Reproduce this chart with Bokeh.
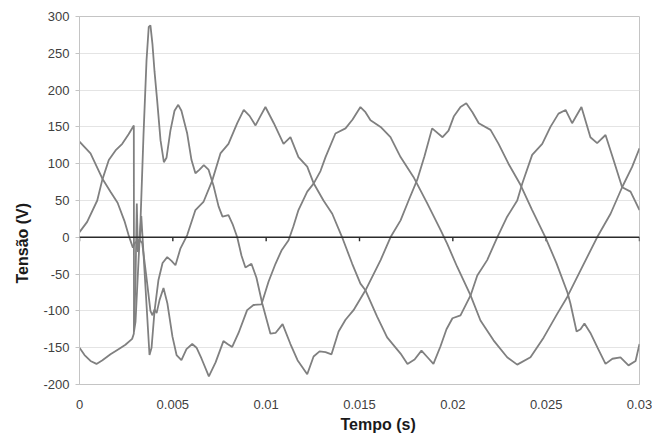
from bokeh.plotting import figure
from bokeh.models import Range1d, FixedTicker, NumeralTickFormatter, Span, Title
from bokeh.embed import file_html
from bokeh.resources import INLINE

# ---- data (time in s, voltage in V) ----
t_a = [0, 0.00027, 0.00059, 0.00091, 0.00123, 0.00166, 0.00209, 0.00246, 0.00282, 0.00291,
       0.00300, 0.00307, 0.00313, 0.00324, 0.00331, 0.00354, 0.00375, 0.00386, 0.00402, 0.00423,
       0.00445, 0.00470, 0.00493, 0.00514, 0.00541, 0.00577, 0.00621, 0.00664, 0.00711, 0.00755,
       0.00798, 0.00845, 0.00880, 0.00911, 0.00943, 0.00970, 0.00996, 0.01041, 0.01093, 0.01130,
       0.01173, 0.01220, 0.01255, 0.01307, 0.01354, 0.01407, 0.01461, 0.01505, 0.01532, 0.01595,
       0.01648, 0.01720, 0.01757, 0.01795, 0.01832, 0.01864, 0.01896, 0.01934, 0.01966, 0.01998,
       0.02041, 0.02095, 0.02131, 0.02184, 0.02238, 0.02291, 0.02345, 0.02372, 0.02425, 0.02479,
       0.02523, 0.02566, 0.02604, 0.02639, 0.02689, 0.02737, 0.02773, 0.02818, 0.02861, 0.02907,
       0.02952, 0.03]
v_a = [-150, -160, -168, -172, -167, -159, -152, -146, -138, -131,
       -60, 46, -20, 0, 29, -70, -160, -150, -100, -58,
       -35, -27, -32, -38, -15, 3, 37, 48, 77, 114,
       127, 155, 173, 165, 152, 165, 177, 155, 127, 136,
       109, 96, 73, 50, 32, 0, -36, -63, -72, -108,
       -136, -158, -172, -166, -154, -163, -172, -148, -125, -110,
       -106, -79, -52, -31, 0, 28, 50, 73, 112, 127,
       150, 168, 173, 155, 177, 136, 128, 139, 105, 68,
       62, 37]

t_b = [0, 0.00059, 0.00122, 0.00166, 0.00204, 0.00241, 0.00263, 0.00286, 0.00295, 0.00311,
       0.00321, 0.00336, 0.00359, 0.00380, 0.00391, 0.00402, 0.00413, 0.00429, 0.00450, 0.00471,
       0.00498, 0.00520, 0.00546, 0.00573, 0.00604, 0.00627, 0.00654, 0.00693, 0.00729, 0.00771,
       0.00793, 0.00818, 0.00852, 0.00898, 0.00932, 0.00975, 0.01013, 0.01050, 0.01082, 0.01120,
       0.01146, 0.01173, 0.01220, 0.01254, 0.01291, 0.01318, 0.01371, 0.01425, 0.01463, 0.01505,
       0.01532, 0.01559, 0.01613, 0.01666, 0.01720, 0.01789, 0.01863, 0.01934, 0.01970, 0.02023,
       0.02095, 0.02148, 0.02218, 0.02291, 0.02345, 0.02416, 0.02487, 0.02559, 0.02613, 0.02684,
       0.02773, 0.02845, 0.02907, 0.02961, 0.03]
v_b = [130, 114, 80, 62, 47, 22, 3, -14, -8, -5,
       -3, -8, -55, -100, -106, -98, -103, -85, -69, -90,
       -135, -160, -167, -152, -145, -150, -165, -189, -170, -141,
       -145, -149, -130, -99, -92, -91, -60, -36, -18, -4,
       15, 37, 62, 73, 90, 109, 141, 148, 160, 177,
       170, 159, 150, 136, 109, 82, 46, 10, -9, -40,
       -79, -113, -140, -163, -173, -163, -136, -104, -81, -45,
       0, 32, 68, 96, 121]

t_c = [0, 0.00041, 0.00095, 0.00122, 0.00157, 0.00193, 0.00229, 0.00263, 0.00291, 0.00292,
       0.00300, 0.00327, 0.00343, 0.00359, 0.00371, 0.00380, 0.00391, 0.00402, 0.00416, 0.00434,
       0.00452, 0.00466, 0.00487, 0.00509, 0.00529, 0.00546, 0.00577, 0.00600, 0.00621, 0.00643,
       0.00666, 0.00691, 0.00718, 0.00745, 0.00766, 0.00798, 0.00820, 0.00845, 0.00868, 0.00889,
       0.00921, 0.00948, 0.00979, 0.01023, 0.01050, 0.01088, 0.01130, 0.01168, 0.01220, 0.01254,
       0.01286, 0.01318, 0.01350, 0.01388, 0.01425, 0.01468, 0.01532, 0.01613, 0.01666, 0.01720,
       0.01763, 0.01809, 0.01848, 0.01889, 0.01945, 0.01977, 0.02005, 0.02041, 0.02072, 0.02105,
       0.02139, 0.02202, 0.02245, 0.02298, 0.02363, 0.02425, 0.02496, 0.02555, 0.02614, 0.02630,
       0.02663, 0.02684, 0.02705, 0.02737, 0.02775, 0.02818, 0.02855, 0.02898, 0.02941, 0.02979,
       0.03]
v_c = [7, 21, 50, 78, 105, 118, 127, 140, 152, -128,
       -115, 23, 140, 240, 286, 288, 262, 225, 186, 132,
       102, 108, 145, 172, 180, 172, 141, 105, 87, 92,
       98, 92, 70, 42, 28, 30, 18, 0, -25, -41,
       -36, -55, -90, -131, -130, -118, -145, -167, -186, -162,
       -155, -156, -159, -128, -112, -99, -72, -31, 0, 23,
       50, 78, 110, 148, 136, 145, 164, 177, 182, 170,
       155, 146, 127, 100, 71, 37, 0, -35, -75, -90,
       -128, -125, -117, -130, -150, -172, -165, -163, -174, -168,
       -145]

x_ticks = [0, 0.005, 0.01, 0.015, 0.02, 0.025, 0.03]
y_ticks = [-200, -150, -100, -50, 0, 50, 100, 150, 200, 250, 300]
y_title = "Tensão (V)"
x_title = "Tempo (s)"

FONT = "Liberation Sans"
LINE = "#808080"

p = figure(width=652, height=436, output_backend="svg", toolbar_location=None,
           x_range=Range1d(0, 0.03), y_range=Range1d(-200, 300),
           min_border_left=79, min_border_right=13, min_border_top=16, min_border_bottom=52,
           background_fill_color="white", border_fill_color="white")

p.outline_line_color = "#c4c4c4"
p.xgrid.grid_line_color = None
p.ygrid.grid_line_color = "#e4e4e4"
p.ygrid.grid_line_width = 1

p.xaxis.ticker = FixedTicker(ticks=x_ticks)
p.yaxis.ticker = FixedTicker(ticks=y_ticks)
p.xaxis.formatter = NumeralTickFormatter(format="0.[000]")
p.yaxis.formatter = NumeralTickFormatter(format="0")
for ax in (p.xaxis, p.yaxis):
    ax.axis_line_color = "#c4c4c4"
    ax.major_tick_line_color = "#c4c4c4"
    ax.minor_tick_line_color = None
    ax.major_tick_in = 0
    ax.major_label_text_font = FONT
    ax.major_label_text_font_size = "13px"
    ax.major_label_text_color = "#404040"
p.xaxis.major_tick_out = 0
p.xaxis.major_label_standoff = 15
p.yaxis.major_tick_out = 4
p.yaxis.major_label_standoff = 6

# zero line with its tick marks
p.add_layout(Span(location=0, dimension="width", line_color="#2b2b2b", line_width=1.4))
tick_len = 4 * 500 / 368
p.segment(x0=x_ticks, y0=[0] * len(x_ticks), x1=x_ticks, y1=[-tick_len] * len(x_ticks),
          line_color="#2b2b2b", line_width=1.4)

for t, v in ((t_a, v_a), (t_b, v_b), (t_c, v_c)):
    p.line(t, v, line_color=LINE, line_width=1.8)

p.add_layout(Title(text=y_title, align="left", offset=101, standoff=20, text_font=FONT,
                   text_font_size="16px", text_font_style="bold", text_color="#1a1a1a"), "left")
p.add_layout(Title(text=x_title, align="left", offset=261, standoff=4, text_font=FONT,
                   text_font_size="16px", text_font_style="bold", text_color="#1a1a1a"), "below")

open("out.html", "w").write(file_html(p, INLINE))
